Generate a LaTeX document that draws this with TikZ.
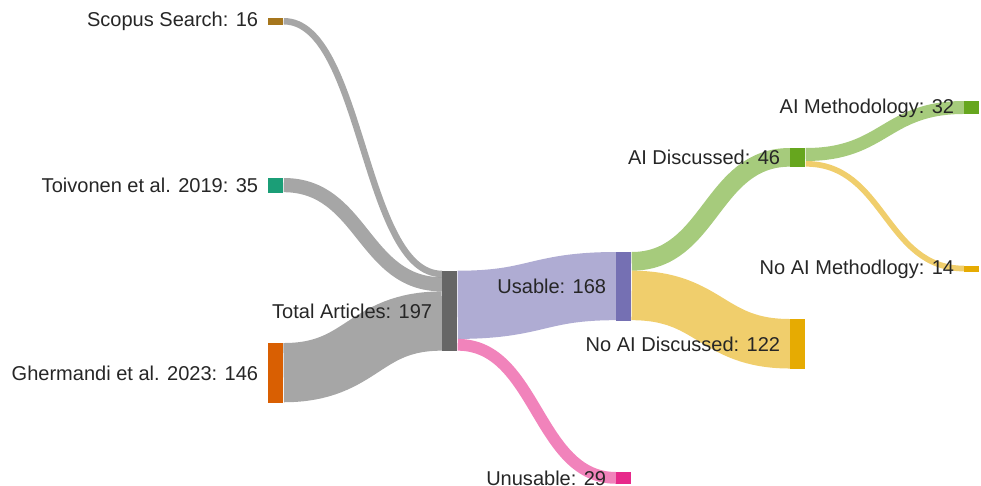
\documentclass[tikz,border=0pt]{standalone}
\usepackage{fontspec}
\setmainfont{Liberation Sans}
\usetikzlibrary{calc, positioning, backgrounds}
\definecolor{srcbrown}{HTML}{A6761D}
\definecolor{srcteal}{HTML}{1B9E77}
\definecolor{srcorange}{HTML}{D95F02}
\definecolor{totalgray}{HTML}{666666}
\definecolor{usepurple}{HTML}{7570B3}
\definecolor{unusepink}{HTML}{E7298A}
\definecolor{aigreen}{HTML}{66A61E}
\definecolor{noaiyellow}{HTML}{E6AB02}

\tikzset{
    bar/.style={rectangle, draw=none, inner sep=0pt, minimum width=0.3cm, anchor=north west},
    val/.style={minimum height=#1*0.00812cm},
    lbl/.style={inner sep=0pt, text=black!85, font=\fontsize{11.4}{13}\selectfont},
    band/.style={draw=#1, draw opacity=0.58},
}

% px per article
\newcommand{\fk}{0.406}
% band: source, offset, target, offset, count, colour
\newcommand{\flow}[6]{%
    \path ($(#1.north east)+(0,{(#2+#5/2)*\fk})$) coordinate (s)
          ($(#3.north west)+(0,{(#4+#5/2)*\fk})$) coordinate (t)
          ($(s)!.5!(t)$) coordinate (m);
    \draw[band=#6, line width=#5*0.00812cm] (s) .. controls (m |- s) and (m |- t) .. (t);
}

\begin{document}
\begin{tikzpicture}[x=0.02cm, y=-0.02cm]
    \useasboundingbox (0,0) rectangle (981,486);

    % Sources
    \node[bar, val=16, fill=srcbrown] (scopus) at (268,18) {};
    \node[bar, val=35, fill=srcteal] (toivonen) at (268,178) {};
    \node[bar, val=146, fill=srcorange] (ghermandi) at (268,343) {};

    % Pooled articles
    \node[bar, val=197, fill=totalgray] (total) at (442,270.7) {};

    % Screening
    \node[bar, val=168, fill=usepurple] (usable) at (616,252) {};
    \node[bar, val=29, fill=unusepink] (unusable) at (616,472) {};

    % AI discussion
    \node[bar, val=46, fill=aigreen] (aidisc) at (790,148) {};
    \node[bar, val=122, fill=noaiyellow] (noaidisc) at (790,319) {};

    % AI methodology
    \node[bar, val=32, fill=aigreen] (aimeth) at (964,101) {};
    \node[bar, val=14, fill=noaiyellow] (noaimeth) at (964,265.7) {};

    % Flows
    \begin{scope}[on background layer]
        \flow{scopus}{0}{total}{0}{16}{totalgray}
        \flow{toivonen}{0}{total}{16}{35}{totalgray}
        \flow{ghermandi}{0}{total}{51}{146}{totalgray}
        \flow{total}{0}{usable}{0}{168}{usepurple}
        \flow{total}{168}{unusable}{0}{29}{unusepink}
        \flow{usable}{0}{aidisc}{0}{46}{aigreen}
        \flow{usable}{46}{noaidisc}{0}{122}{noaiyellow}
        \flow{aidisc}{0}{aimeth}{0}{32}{aigreen}
        \flow{aidisc}{32}{noaimeth}{0}{14}{noaiyellow}
    \end{scope}

    % Labels
    \node[lbl, left=0.19cm of scopus] (scopus-lbl) {Scopus Search: 16};
    \node[lbl, left=0.19cm of toivonen] (toivonen-lbl) {Toivonen et al. 2019: 35};
    \node[lbl, left=0.19cm of ghermandi] (ghermandi-lbl) {Ghermandi et al. 2023: 146};
    \node[lbl, left=0.19cm of total] (total-lbl) {Total Articles: 197};
    \node[lbl, left=0.19cm of usable] (usable-lbl) {Usable: 168};
    \node[lbl, left=0.19cm of unusable] (unusable-lbl) {Unusable: 29};
    \node[lbl, left=0.19cm of aidisc] (aidisc-lbl) {AI Discussed: 46};
    \node[lbl, left=0.19cm of noaidisc] (noaidisc-lbl) {No AI Discussed: 122};
    \node[lbl, left=0.19cm of aimeth] (aimeth-lbl) {AI Methodology: 32};
    \node[lbl, left=0.19cm of noaimeth] (noaimeth-lbl) {No AI Methodlogy: 14};
\end{tikzpicture}
\end{document}
